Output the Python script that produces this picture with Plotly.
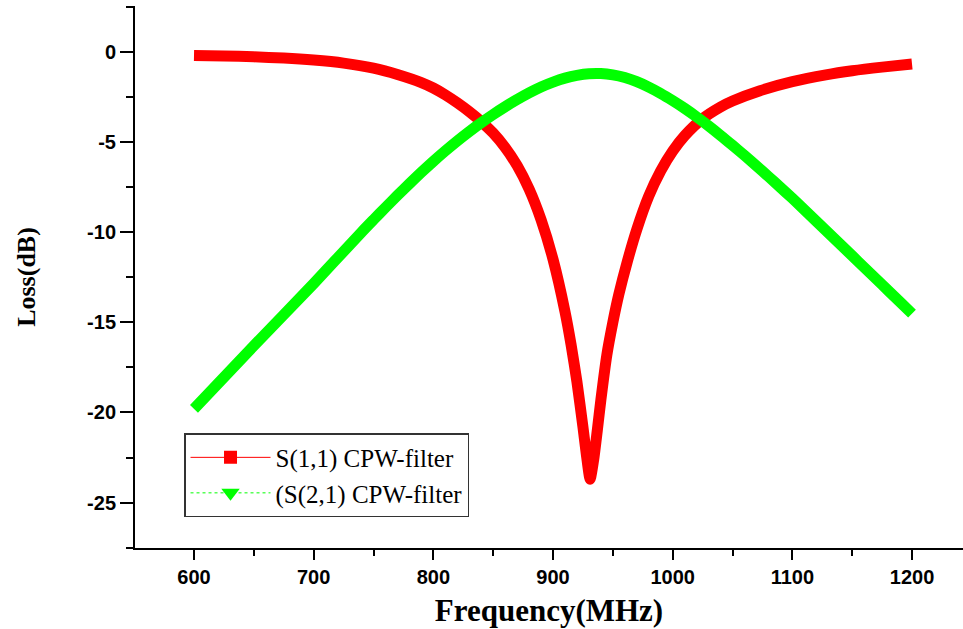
import plotly.graph_objects as go

# S(1,1) CPW-filter (red)
s11_freq = [600, 625, 650, 675, 700, 725, 750, 770, 790, 800, 810, 820, 830, 840,
            850, 860, 870, 880, 890, 900, 910, 915, 920, 925, 928, 931, 934, 937,
            940, 945, 950, 955, 962, 970, 980, 990, 1000, 1010, 1025, 1040, 1050,
            1073, 1100, 1128, 1150, 1175, 1200]
s11_db = [-0.19, -0.22, -0.27, -0.34, -0.45, -0.62, -0.9, -1.25, -1.7, -2.0, -2.38,
          -2.82, -3.31, -3.86, -4.5, -5.3, -6.3, -7.6, -9.3, -11.5, -14.4, -16.2,
          -18.3, -20.8, -22.4, -23.7, -22.6, -21.0, -19.3, -16.8, -15.0, -13.45,
          -11.65, -9.85, -8.0, -6.6, -5.5, -4.65, -3.7, -3.05, -2.72, -2.15, -1.65,
          -1.27, -1.04, -0.84, -0.67]

# (S(2,1) CPW-filter (green)
s21_freq = [600, 650, 700, 740, 750, 760, 770, 780, 790, 800, 810, 820, 830, 840,
            850, 860, 870, 880, 890, 900, 910, 920, 930, 940, 950, 960, 970, 980,
            990, 1000, 1010, 1020, 1030, 1040, 1050, 1060, 1070, 1080, 1090, 1100,
            1110, 1120, 1130, 1140, 1150, 1160, 1170, 1180, 1190, 1200]
s21_db = [-19.8, -16.3, -12.85, -10.0, -9.31, -8.63, -7.96, -7.31, -6.68, -6.07,
          -5.49, -4.94, -4.42, -3.93, -3.47, -3.04, -2.64, -2.27, -1.94, -1.67,
          -1.45, -1.3, -1.21, -1.2, -1.27, -1.42, -1.65, -1.95, -2.3, -2.7, -3.13,
          -3.6, -4.1, -4.63, -5.18, -5.74, -6.32, -6.91, -7.51, -8.12, -8.75, -9.39,
          -10.03, -10.67, -11.31, -11.95, -12.59, -13.23, -13.87, -14.52]

x_ticks = [600, 700, 800, 900, 1000, 1100, 1200]
y_ticks = [0, -5, -10, -15, -20, -25]
y_tick_labels = ["0", "-5", "-10", "-15", "-20", "-25"]

red = "#ff0000"
green = "#00ff00"

fig = go.Figure()
fig.add_trace(go.Scatter(x=s11_freq, y=s11_db, mode="lines", showlegend=False,
                         line=dict(color=red, width=11, shape="spline", smoothing=0.6)))
fig.add_trace(go.Scatter(x=s21_freq, y=s21_db, mode="lines", showlegend=False,
                         line=dict(color=green, width=11, shape="spline", smoothing=0.8)))
# legend entries
fig.add_trace(go.Scatter(x=[None], y=[None], mode="lines+markers", name="S(1,1) CPW-filter",
                         line=dict(color=red, width=1),
                         marker=dict(symbol="square", size=13, color=red)))
fig.add_trace(go.Scatter(x=[None], y=[None], mode="lines+markers", name="(S(2,1) CPW-filter",
                         line=dict(color=green, width=1, dash="dot"),
                         marker=dict(symbol="triangle-down", size=16, color=green)))

common = dict(showline=True, linecolor="black", linewidth=2, mirror=False,
              ticks="outside", tickcolor="black", tickwidth=2,
              showgrid=False, zeroline=False,
              tickfont=dict(family="Liberation Sans, Arial", size=20, color="black", weight="bold"))

fig.update_layout(
    width=963, height=629,
    margin=dict(l=135, r=0, t=6, b=81),
    paper_bgcolor="white", plot_bgcolor="white",
    xaxis=dict(range=[550.7, 1242.6], tickvals=x_ticks, ticklen=10,
               minor=dict(ticks="outside", ticklen=6, tickwidth=2, tickcolor="black", dtick=50, tick0=550),
               title=dict(text="Frequency(MHz)", standoff=12,
                          font=dict(family="Liberation Serif, Times New Roman", size=31, color="black", weight="bold")),
               **common),
    yaxis=dict(range=[-27.52, 2.55], tickvals=y_ticks, ticktext=y_tick_labels, ticklen=13,
               minor=dict(ticks="outside", ticklen=7, tickwidth=2, tickcolor="black", dtick=2.5, tick0=0),
               title=dict(text="Loss(dB)", standoff=44,
                          font=dict(family="Liberation Serif, Times New Roman", size=26, color="black", weight="bold")),
               **common),
    legend=dict(x=0.0592, y=0.212, xanchor="left", yanchor="top",
                bgcolor="white", bordercolor="#333333", borderwidth=1.5,
                font=dict(family="Liberation Serif, Times New Roman", size=25, color="black"),
                tracegroupgap=0, itemwidth=80),
)

fig.write_html("out.html")
